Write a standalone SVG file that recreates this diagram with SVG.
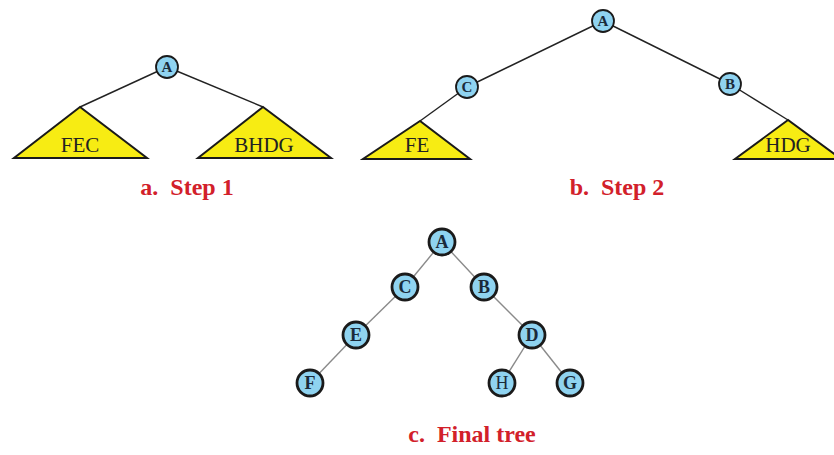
<svg xmlns="http://www.w3.org/2000/svg" width="834" height="455" viewBox="0 0 834 455">
<style>
.tri{fill:#f7ec13;stroke:#1a1a1a;stroke-width:2;stroke-linejoin:miter}
.edge{stroke:#222;stroke-width:1.4;fill:none}
.edge2{stroke:#8a8a8a;stroke-width:1.4;fill:none}
.n1{fill:#8fd3f0;stroke:#1a1a1a;stroke-width:1.8}
.n2{fill:#8fd3f0;stroke:#1a1a1a;stroke-width:2.8}
.t1{font-family:"Liberation Serif",serif;font-weight:bold;font-size:15px;fill:#1a2a3a;text-anchor:middle}
.t2{font-family:"Liberation Serif",serif;font-weight:bold;font-size:18px;fill:#1a2a3a;text-anchor:middle}
.tt{font-family:"Liberation Serif",serif;font-size:21px;fill:#222;text-anchor:middle}
.th{font-family:"Liberation Serif",serif;font-size:18px;fill:#1a2a3a;text-anchor:middle}
.lab{font-family:"Liberation Serif",serif;font-weight:bold;font-size:24px;fill:#d2202a;text-anchor:middle;white-space:pre}
</style>
<rect width="834" height="455" fill="#ffffff"/>
<g id="connectors">
<line class="edge" x1="167" y1="67" x2="80" y2="107"/>
<line class="edge" x1="167" y1="67" x2="263" y2="107"/>
<line class="edge" x1="603" y1="21" x2="467" y2="87"/>
<line class="edge" x1="603" y1="21" x2="730" y2="84"/>
<line class="edge" x1="467" y1="87" x2="420" y2="121"/>
<line class="edge" x1="730" y1="84" x2="788" y2="120"/>
<line class="edge2" x1="442" y1="242" x2="405" y2="287"/>
<line class="edge2" x1="442" y1="242" x2="484" y2="287"/>
<line class="edge2" x1="405" y1="287" x2="356" y2="335"/>
<line class="edge2" x1="484" y1="287" x2="532" y2="335"/>
<line class="edge2" x1="356" y1="335" x2="310" y2="383"/>
<line class="edge2" x1="532" y1="335" x2="502" y2="383"/>
<line class="edge2" x1="532" y1="335" x2="570" y2="383"/>
</g>
<g id="step1">
<g id="s1-A"><circle class="n1" cx="167" cy="67" r="11"/><text class="t1" x="167" y="72">A</text></g>
<g id="s1-FEC"><polygon class="tri" points="80,107 14,158 147,158"/><text class="tt" x="80" y="152">FEC</text></g>
<g id="s1-BHDG"><polygon class="tri" points="263,107 198,158 331,158"/><text class="tt" x="264" y="152">BHDG</text></g>
<text class="lab" x="187" y="195" xml:space="preserve">a.  Step 1</text>
</g>
<g id="step2">
<g id="s2-A"><circle class="n1" cx="603" cy="21" r="11"/><text class="t1" x="603" y="26">A</text></g>
<g id="s2-C"><circle class="n1" cx="467" cy="87" r="11"/><text class="t1" x="467" y="92">C</text></g>
<g id="s2-B"><circle class="n1" cx="730" cy="84" r="11"/><text class="t1" x="730" y="89">B</text></g>
<g id="s2-FE"><polygon class="tri" points="420,121 363,159 470,159"/><text class="tt" x="417" y="152">FE</text></g>
<g id="s2-HDG"><polygon class="tri" points="788,120 735,159 841,159"/><text class="tt" x="788" y="152">HDG</text></g>
<text class="lab" x="617" y="195" xml:space="preserve">b.  Step 2</text>
</g>
<g id="final">
<g id="f-A"><circle class="n2" cx="442" cy="242" r="13"/><text class="t2" x="442" y="248">A</text></g>
<g id="f-C"><circle class="n2" cx="405" cy="287" r="13"/><text class="t2" x="405" y="293">C</text></g>
<g id="f-B"><circle class="n2" cx="484" cy="287" r="13"/><text class="t2" x="484" y="293">B</text></g>
<g id="f-E"><circle class="n2" cx="356" cy="335" r="13"/><text class="t2" x="356" y="341">E</text></g>
<g id="f-D"><circle class="n2" cx="532" cy="335" r="13"/><text class="t2" x="532" y="341">D</text></g>
<g id="f-F"><circle class="n2" cx="310" cy="383" r="13"/><text class="t2" x="310" y="389">F</text></g>
<g id="f-H"><circle class="n2" cx="502" cy="383" r="13"/><text class="th" x="502" y="389">H</text></g>
<g id="f-G"><circle class="n2" cx="570" cy="383" r="13"/><text class="t2" x="570" y="389">G</text></g>
<text class="lab" x="472" y="442" xml:space="preserve">c.  Final tree</text>
</g>
</svg>
